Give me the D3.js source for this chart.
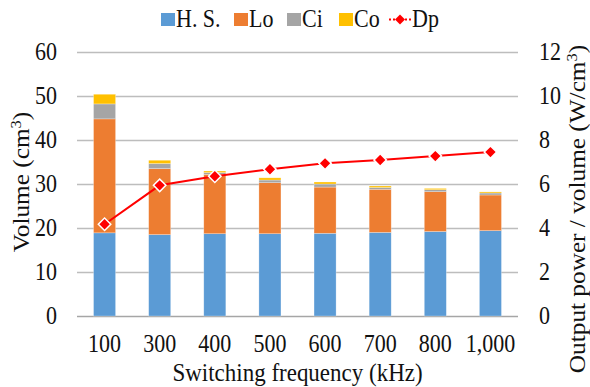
<!DOCTYPE html>
<html>
<head>
<meta charset="utf-8">
<script src="https://cdn.jsdelivr.net/npm/d3@7"></script>
<style>
  body { margin: 0; background: #fff; }
  svg text { font-family: "Liberation Serif", "Times New Roman", serif; fill: #111; }
</style>
</head>
<body>
<svg width="590" height="387"></svg>
<script>
// data
var freqs = ["100", "300", "400", "500", "600", "700", "800", "1,000"];
var hs = [18.9, 18.5, 18.7, 18.7, 18.8, 19.0, 19.2, 19.4];
var lo = [25.9, 15.0, 13.5, 11.6, 10.5, 9.8, 9.05, 8.1];
var ci = [3.4, 1.15, 0.4, 0.6, 0.7, 0.4, 0.45, 0.45];
var co = [2.2, 0.75, 0.35, 0.5, 0.45, 0.35, 0.3, 0.25];
var dp = [4.17, 5.94, 6.35, 6.67, 6.94, 7.09, 7.27, 7.45];
var leftTicks = [0, 10, 20, 30, 40, 50, 60];
var rightTicks = [0, 2, 4, 6, 8, 10, 12];
var seriesNames = ["H. S.", "Lo", "Ci", "Co"];
var seriesColors = ["#5b9bd5", "#ed7d31", "#a5a5a5", "#ffc000"];

var svg = d3.select("svg");
var plotLeft = 77, plotRight = 518, plotTop = 52, plotBottom = 316;
var stretch = 1.1; // glyphs in the picture are a bit taller than wide

var x = d3.scaleBand()
  .domain(freqs)
  .range([plotLeft, plotRight])
  .paddingInner(0.6)
  .paddingOuter(0.3);
var yL = d3.scaleLinear().domain([0, 60]).range([plotBottom, plotTop]);
var yR = d3.scaleLinear().domain([0, 12]).range([plotBottom, plotTop]);

// gridlines
var grid = svg.append("g")
  .attr("transform", "translate(" + plotLeft + ",0)")
  .call(d3.axisLeft(yL).tickValues(leftTicks).tickSize(-(plotRight - plotLeft)).tickFormat(""));
grid.select(".domain").remove();
grid.selectAll("line")
  .attr("stroke", function(d) { return d === 0 ? "#a6a6a6" : "#bdbdbd"; })
  .attr("stroke-width", 1.5);

// stacked bars
var rows = freqs.map(function(f, i) {
  return { f: f, hs: hs[i], lo: lo[i], ci: ci[i], co: co[i] };
});
var stack = d3.stack().keys(["hs", "lo", "ci", "co"])(rows);

svg.append("g").selectAll("g")
  .data(stack)
  .enter().append("g")
    .attr("fill", function(d, i) { return seriesColors[i]; })
  .selectAll("rect")
  .data(function(d) { return d; })
  .enter().append("rect")
    .attr("x", function(d) { return x(d.data.f); })
    .attr("width", x.bandwidth())
    .attr("y", function(d) { return yL(d[1]); })
    .attr("height", function(d) { return yL(d[0]) - yL(d[1]); })
    .attr("stroke", "#fff")
    .attr("stroke-opacity", 0.45)
    .attr("stroke-width", 0.6);

// Dp line
var cx = function(i) { return x(freqs[i]) + x.bandwidth() / 2; };
var line = d3.line()
  .x(function(d, i) { return cx(i); })
  .y(function(d) { return yR(d); });

svg.append("path")
  .datum(dp)
  .attr("fill", "none")
  .attr("stroke", "#ff0000")
  .attr("stroke-width", 2)
  .attr("d", line);

var diamond = d3.symbol().type(d3.symbolSquare).size(78);
svg.append("g").selectAll("path")
  .data(dp)
  .enter().append("path")
    .attr("d", diamond)
    .attr("transform", function(d, i) {
      return "translate(" + cx(i) + "," + yR(d) + ") rotate(45)";
    })
    .attr("fill", "#ff0000")
    .attr("stroke", "#fff")
    .attr("stroke-width", 1.5);

// axes
var axL = svg.append("g")
  .attr("transform", "translate(" + plotLeft + ",0)")
  .call(d3.axisLeft(yL).tickValues(leftTicks).tickSize(0).tickPadding(20));
var axR = svg.append("g")
  .attr("transform", "translate(" + plotRight + ",0)")
  .call(d3.axisRight(yR).tickValues(rightTicks).tickSize(0).tickPadding(21));
var axB = svg.append("g")
  .attr("transform", "translate(0," + plotBottom + ")")
  .call(d3.axisBottom(x).tickSize(0));

[axL, axR, axB].forEach(function(a) {
  a.select(".domain").remove();
  a.selectAll("text")
    .style("font-family", '"Liberation Serif", "Times New Roman", serif')
    .attr("font-size", 22)
    .attr("fill", "#111")
    .attr("transform", "scale(1," + stretch + ")");
});
axB.selectAll("text").attr("dy", null).attr("y", 35.7 / stretch);

// axis titles
function stretched(sel, tx, ty, rot) {
  return sel.attr("transform", "translate(" + tx + "," + ty + ") scale(1," + stretch + ")" + (rot ? " rotate(-90)" : ""));
}

stretched(svg.append("text"), (plotLeft + plotRight) / 2, 381, false)
  .attr("text-anchor", "middle")
  .attr("font-size", 23)
  .text("Switching frequency (kHz)");

var tl = stretched(svg.append("text"), 28.5, 182, true)
  .attr("text-anchor", "middle")
  .attr("font-size", 23);
tl.append("tspan").text("Volume (cm");
tl.append("tspan").attr("font-size", 15).attr("dy", -8).text("3");
tl.append("tspan").attr("dy", 8).text(")");

var tr = stretched(svg.append("text"), 585, 209, true)
  .attr("text-anchor", "middle")
  .attr("font-size", 23);
tr.append("tspan").text("Output power / volume (W/cm");
tr.append("tspan").attr("font-size", 15).attr("dy", -8).text("3");
tr.append("tspan").attr("dy", 8).text(")");

// legend
var legendX = [161, 234, 287, 339];
var legend = svg.append("g");
seriesNames.forEach(function(name, i) {
  legend.append("rect")
    .attr("x", legendX[i])
    .attr("y", 13)
    .attr("width", 14)
    .attr("height", 13)
    .attr("fill", seriesColors[i]);
  stretched(legend.append("text"), legendX[i] + 15, 27, false)
    .attr("font-size", 22)
    .text(name);
});
legend.append("line")
  .attr("x1", 389).attr("x2", 411)
  .attr("y1", 19.5).attr("y2", 19.5)
  .attr("stroke", "#ff0000")
  .attr("stroke-width", 2)
  .attr("stroke-dasharray", "2,2");
legend.append("path")
  .attr("d", d3.symbol().type(d3.symbolSquare).size(50))
  .attr("transform", "translate(400,19.5) rotate(45)")
  .attr("fill", "#ff0000");
stretched(legend.append("text"), 412, 27, false)
  .attr("font-size", 22)
  .text("Dp");
</script>
</body>
</html>
